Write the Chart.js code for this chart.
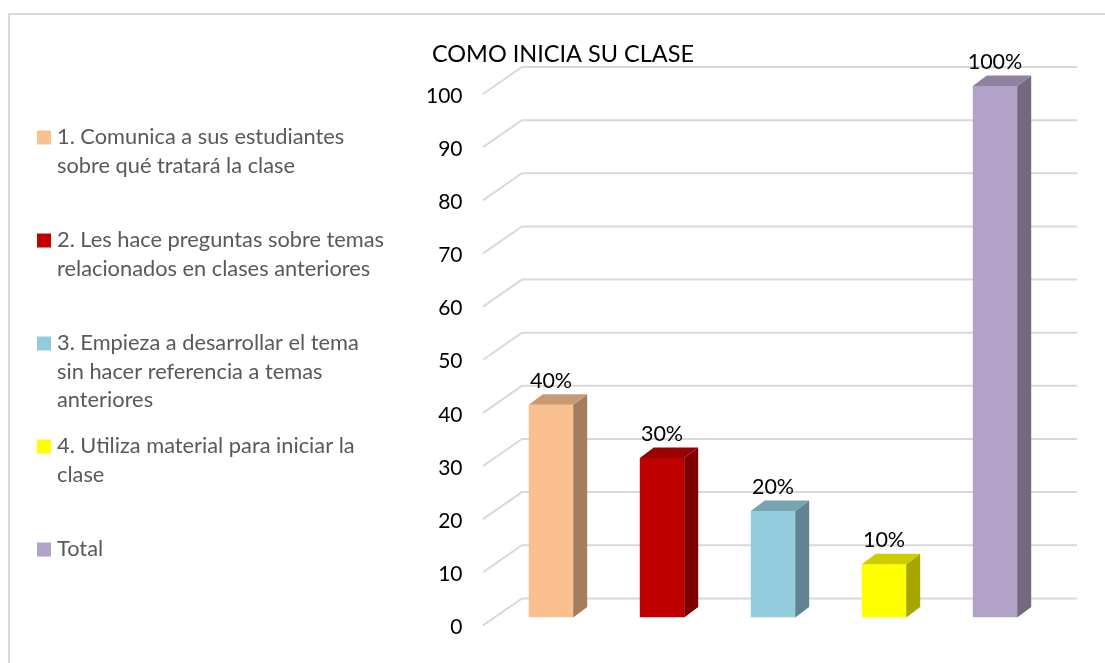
<!DOCTYPE html>
<html>
<head>
<meta charset="utf-8">
<script src="https://cdn.jsdelivr.net/npm/chart.js@4.4.0/dist/chart.umd.min.js"></script>
<style>
  html, body { margin: 0; padding: 0; background: #fff; }
  #wrap { width: 1105px; height: 663px; position: relative; }
</style>
</head>
<body>
<div id="wrap"><canvas id="chart" width="1105" height="663"></canvas></div>
<script>
const title = 'COMO INICIA SU CLASE'
const categories = [
  ['1. Comunica a sus estudiantes', 'sobre qué tratará la clase'],
  ['2. Les hace preguntas sobre temas', 'relacionados en clases anteriores'],
  ['3. Empieza a desarrollar el tema', 'sin hacer referencia a temas', 'anteriores'],
  ['4. Utiliza material para iniciar la', 'clase'],
  ['Total']
]
const values = [40, 30, 20, 10, 100]
const valueLabels = ['40%', '30%', '20%', '10%', '100%']
const barColors = ['#FAC090', '#C00000', '#93CDDD', '#FFFF00', '#B3A2C7']

const FONT = 'Lato, "Open Sans", sans-serif'

// darken a hex colour by a factor
function shade(hex, f) {
  const n = parseInt(hex.slice(1), 16)
  const r = Math.round(((n >> 16) & 255) * f)
  const g = Math.round(((n >> 8) & 255) * f)
  const b = Math.round((n & 255) * f)
  return `rgb(${r},${g},${b})`
}

// box border, title and the legend on the left
const framePlugin = {
  id: 'frame',
  beforeDraw(chart) {
    const ctx = chart.ctx
    ctx.save()
    ctx.strokeStyle = '#D9D9D9'
    ctx.lineWidth = 2
    ctx.strokeRect(9, 14, 1300, 1000)
    ctx.restore()
  },
  afterDraw(chart) {
    const ctx = chart.ctx
    ctx.save()
    ctx.fillStyle = '#000'
    ctx.font = `23.5px ${FONT}`
    ctx.textAlign = 'center'
    ctx.textBaseline = 'middle'
    ctx.fillText(title, 563, 54)

    ctx.font = `21.8px ${FONT}`
    ctx.textAlign = 'left'
    chart.data.labels.forEach((lines, i) => {
      const y0 = 137 + 103 * i
      ctx.fillStyle = barColors[i]
      ctx.fillRect(37, y0 - 6.5, 14, 14)
      ctx.fillStyle = '#595959'
      lines.forEach((t, j) => ctx.fillText(t, 57, y0 + 28.5 * j))
    })
    ctx.restore()
  }
}

// perspective gridlines behind, side/top faces and value labels on top
const depthPlugin = {
  id: 'depth',
  beforeDatasetsDraw(chart) {
    const { ctx, chartArea, scales: { y } } = chart
    ctx.save()
    ctx.strokeStyle = '#D9D9D9'
    ctx.lineWidth = 2
    y.ticks.forEach(t => {
      const yb = y.getPixelForValue(t.value) - 19
      ctx.beginPath()
      ctx.moveTo(chartArea.left - 12.5, yb + 27)
      ctx.lineTo(chartArea.left + 26.5, yb)
      ctx.lineTo(chartArea.right + 26.5, yb)
      ctx.stroke()
    })
    ctx.restore()
  },
  afterDatasetsDraw(chart) {
    const ctx = chart.ctx
    const dx = 14, dy = 10.5
    ctx.save()
    chart.getDatasetMeta(0).data.forEach((bar, i) => {
      const xl = bar.x - bar.width / 2
      const xr = bar.x + bar.width / 2
      const top = bar.y, base = bar.base
      ctx.fillStyle = shade(barColors[i], 0.65)
      ctx.beginPath()
      ctx.moveTo(xr, top)
      ctx.lineTo(xr + dx, top - dy)
      ctx.lineTo(xr + dx, base - dy)
      ctx.lineTo(xr, base)
      ctx.closePath()
      ctx.fill()
      ctx.fillStyle = shade(barColors[i], 0.8)
      ctx.beginPath()
      ctx.moveTo(xl, top)
      ctx.lineTo(xl + dx, top - dy)
      ctx.lineTo(xr + dx, top - dy)
      ctx.lineTo(xr, top)
      ctx.closePath()
      ctx.fill()

      ctx.fillStyle = '#000'
      ctx.font = `21.5px ${FONT}`
      ctx.textAlign = 'center'
      ctx.textBaseline = 'middle'
      ctx.fillText(valueLabels[i], bar.x, top - 24)
    })
    ctx.restore()
  }
}

new Chart(document.getElementById('chart'), {
  type: 'bar',
  data: {
    labels: categories,
    datasets: [{
      data: values,
      backgroundColor: barColors,
      borderWidth: 0,
      barPercentage: 0.4,
      categoryPercentage: 1
    }]
  },
  options: {
    responsive: false,
    animation: false,
    layout: { padding: { left: 375.5, right: 54.5, top: 86, bottom: 44 } },
    plugins: {
      legend: { display: false },
      title: { display: false },
      tooltip: { enabled: false }
    },
    scales: {
      x: { display: false },
      y: {
        min: 0,
        max: 100,
        ticks: { stepSize: 10, padding: 33, labelOffset: 10, color: '#000', font: { family: FONT, size: 21 } },
        grid: { display: false, drawTicks: false },
        border: { display: false },
        afterFit: s => { s.width = 120 }
      }
    }
  },
  plugins: [framePlugin, depthPlugin]
})
</script>
</body>
</html>
